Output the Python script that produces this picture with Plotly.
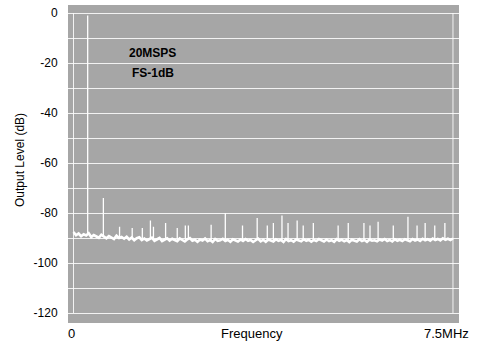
import numpy as np
import plotly.graph_objects as go

# FFT output spectrum, 20 MSPS, input at FS-1dB
FREQ_STEP_MHZ = 0.05
NOISE_FLOOR_DB = [
    -87.6, -88.9, -88.2, -89.3, -88.5, -89.0, -88.1, -89.6, -88.8, -89.2,
    -89.9, -88.7, -89.5, -90.1, -89.2, -89.8, -90.4, -89.1, -90.0, -89.6,
    -90.3, -89.5, -90.6, -89.8, -90.9, -90.1, -89.7, -90.8, -90.2, -91.0,
    -90.4, -89.9, -91.1, -90.5, -90.0, -91.2, -90.6, -90.1, -91.0, -90.3,
    -90.8, -91.3, -90.2, -90.9, -91.4, -90.5, -90.0, -91.1, -90.7, -91.5,
    -90.6, -91.0, -90.2, -91.3, -90.8, -91.6, -90.4, -91.1, -90.9, -90.3,
    -91.2, -90.7, -91.5, -90.5, -91.0, -91.4, -90.6, -91.2, -90.4, -91.1,
    -90.8, -91.6, -90.9, -90.3, -91.3, -90.7, -91.5, -90.6, -91.0, -91.4,
    -90.5, -91.1, -90.8, -91.6, -90.4, -91.2, -90.9, -91.5, -90.6, -91.0,
    -91.3, -90.5, -91.1, -90.7, -91.5, -90.8, -91.2, -90.4, -91.0, -91.4,
    -90.6, -91.2, -90.9, -91.5, -90.5, -91.1, -90.7, -91.3, -90.8, -91.6,
    -90.7, -91.0, -91.4, -90.5, -91.2, -90.8, -91.5, -90.6, -91.1, -90.9,
    -91.3, -90.6, -91.0, -90.4, -91.2, -90.8, -91.4, -90.5, -91.1, -90.7,
    -91.2, -90.5, -90.9, -91.3, -90.4, -91.0, -90.6, -91.2, -90.3, -90.9,
    -90.5, -91.1, -90.2, -90.8, -90.4, -91.0, -90.1, -90.7, -90.3, -90.8,
    -90.2,
]

# Fundamental tone and spurious components (MHz, dB)
FUNDAMENTAL_MHZ = 0.28
FUNDAMENTAL_DB = -1.0
SPUR_MHZ = [0.59, 0.91, 1.16, 1.36, 1.52, 1.58, 1.82, 2.05, 2.21, 2.27,
            2.72, 3.00, 3.34, 3.63, 3.83, 3.95, 4.12, 4.24, 4.42, 4.54,
            4.74, 5.23, 5.43, 5.74, 5.86, 6.02, 6.32, 6.61, 6.79, 6.95,
            7.14, 7.34]
SPUR_DB = [-74.0, -85.5, -86.0, -86.0, -83.0, -85.5, -84.0, -86.0, -85.0, -85.0,
           -84.7, -80.0, -85.0, -82.0, -85.0, -84.0, -81.0, -84.0, -83.0, -85.0,
           -84.0, -85.0, -84.0, -84.0, -85.0, -83.5, -85.0, -81.5, -85.0, -84.0,
           -85.0, -84.0]

Y_TICKS = [0, -20, -40, -60, -80, -100, -120]
Y_GRID_STEP = 10
X_MIN_MHZ, X_MAX_MHZ = 0.0, 7.5
X_LABELS = ["0", "7.5MHz"]

floor_f = np.arange(len(NOISE_FLOOR_DB)) * FREQ_STEP_MHZ
floor_db = np.array(NOISE_FLOOR_DB)

# vertical lines from the floor up to each tone
tone_x, tone_y = [], []
for f, peak in zip([FUNDAMENTAL_MHZ] + SPUR_MHZ, [FUNDAMENTAL_DB] + SPUR_DB):
    base = float(np.interp(f, floor_f, floor_db))
    tone_x += [f, f, None]
    tone_y += [base, peak, None]

FONT = "Liberation Sans, Arial, Helvetica, sans-serif"
BG = "#a6a6a6"
GRID = "rgba(255,255,255,0.85)"

fig = go.Figure()
fig.add_trace(go.Scatter(
    x=floor_f, y=floor_db, mode="lines",
    line=dict(color="white", width=2.6),
    hoverinfo="skip", showlegend=False,
))
fig.add_trace(go.Scatter(
    x=tone_x, y=tone_y, mode="lines",
    line=dict(color="white", width=1.3),
    hoverinfo="skip", showlegend=False,
))

# white frame around the measurement window
for xv in (X_MIN_MHZ, X_MAX_MHZ):
    fig.add_shape(type="line", xref="x", yref="y", x0=xv, x1=xv,
                  y0=Y_TICKS[0], y1=Y_TICKS[-1],
                  line=dict(color=GRID, width=1), layer="below")

grid_vals = list(range(Y_TICKS[0], Y_TICKS[-1] - 1, -Y_GRID_STEP))
grid_text = [str(v) if v in Y_TICKS else "" for v in grid_vals]

fig.update_layout(
    width=483, height=345,
    margin=dict(l=68, r=24, t=5, b=22),
    paper_bgcolor="white", plot_bgcolor=BG,
    font=dict(family=FONT, size=12, color="black"),
    xaxis=dict(range=[-0.109, 7.619], showgrid=False, zeroline=False,
               showticklabels=False, ticks="", showline=False, fixedrange=True),
    yaxis=dict(range=[-124.0, 3.2], tickvals=grid_vals, ticktext=grid_text,
               showgrid=True, gridcolor=GRID, gridwidth=1, zeroline=False,
               ticks="outside", ticklen=7, tickcolor="rgba(0,0,0,0)",
               showline=False, tickfont=dict(size=12), fixedrange=True),
)

annotations = [
    dict(text="20MSPS", x=1.56, y=-15.8, xref="x", yref="y",
         font=dict(size=12, family=FONT, weight="bold")),
    dict(text="FS-1dB", x=1.58, y=-24.0, xref="x", yref="y",
         font=dict(size=12, family=FONT, weight="bold")),
    dict(text="Output Level (dB)", x=0, xshift=-48, xref="paper",
         y=0.5126, yref="paper", textangle=-90, font=dict(size=12)),
    dict(text=X_LABELS[0], x=X_MIN_MHZ, xshift=-2, xref="x",
         y=0, yshift=-10, yref="paper", font=dict(size=13)),
    dict(text="Frequency", x=3.53, xref="x",
         y=0, yshift=-10, yref="paper", font=dict(size=13)),
    dict(text=X_LABELS[1], x=X_MAX_MHZ, xshift=-6.5, xref="x",
         y=0, yshift=-10, yref="paper", font=dict(size=13)),
]
for a in annotations:
    a.update(showarrow=False, xanchor="center", yanchor="middle")
fig.update_layout(annotations=annotations)

fig.write_html("out.html")
